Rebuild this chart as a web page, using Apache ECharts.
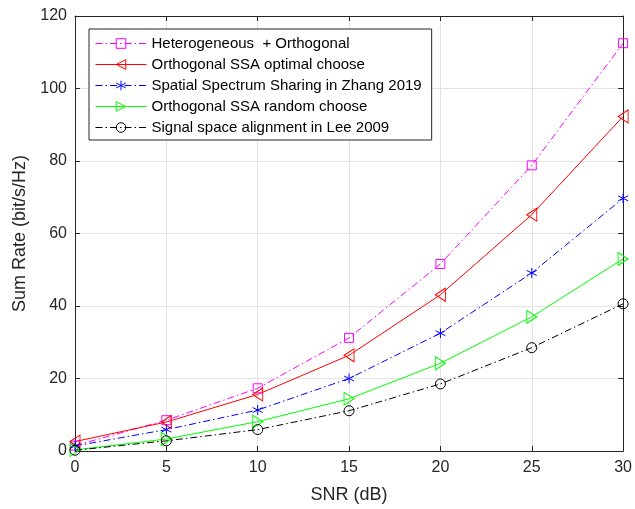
<!DOCTYPE html>
<html>
<head>
<meta charset="utf-8">
<script src="https://cdn.jsdelivr.net/npm/echarts@6/dist/echarts.min.js"></script>
<style>
  html, body { margin: 0; padding: 0; background: #fff; }
  #chart { width: 635px; height: 509px; }
</style>
</head>
<body>
<div id="chart"></div>
<script>
const snr = [0, 5, 10, 15, 20, 25, 30]
const xTicks = { min: 0, max: 30, interval: 5 }
const yTicks = { min: 0, max: 120, interval: 20 }

const seriesNames = [
  'Heterogeneous  + Orthogonal',
  'Orthogonal SSA optimal choose',
  'Spatial Spectrum Sharing in Zhang 2019',
  'Orthogonal SSA random choose',
  'Signal space alignment in Lee 2009'
]
const heteroOrth = [1.5, 8.5, 17.3, 31.2, 51.6, 78.8, 112.5]
const ssaOptimal = [2.6, 8.0, 15.6, 26.4, 43.1, 65.2, 92.3]
const zhang2019 = [1.4, 5.9, 11.3, 20.0, 32.5, 49.1, 69.7]
const ssaRandom = [0.3, 3.3, 8.1, 14.4, 24.2, 37.0, 53.0]
const lee2009 = [0.2, 2.8, 5.9, 11.1, 18.5, 28.5, 40.6]

const dashDot = [7, 3, 1.5, 3]
const asterisk = 'path://M0,-5L0,5M-4.33,-2.5L4.33,2.5M-4.33,2.5L4.33,-2.5'
const textColor = '#262626'
const font = 'Liberation Sans, Arial, sans-serif'

const chart = echarts.init(document.getElementById('chart'))

function pairs(values) {
  return snr.map((x, i) => [x, values[i]])
}

// markers drawn hollow, like the MATLAB defaults
function makeSeries(name, values, color, dash, symbol, size, rotate) {
  return {
    name: name,
    type: 'line',
    data: pairs(values),
    symbol: symbol,
    symbolSize: size,
    symbolRotate: rotate || 0,
    showAllSymbol: true,
    animation: false,
    lineStyle: { color: color, width: 1, type: dash },
    itemStyle: { color: 'rgba(255,255,255,0)', borderColor: color, borderWidth: 1 }
  }
}

const option = {
  backgroundColor: '#fff',
  textStyle: { fontFamily: font },
  grid: { left: 75, right: 7, top: 16, bottom: 56 },
  legend: {
    orient: 'vertical',
    left: 89,
    top: 29,
    padding: [7, 10, 5, 6],
    itemWidth: 51,
    itemHeight: 12,
    itemGap: 6,
    backgroundColor: '#fff',
    borderColor: textColor,
    borderWidth: 1,
    borderRadius: 0,
    lineStyle: { width: 1 },
    itemStyle: { borderWidth: 1 },
    textStyle: { color: '#000', fontSize: 15, fontFamily: font },
    data: seriesNames
  },
  xAxis: [
    {
      type: 'value',
      min: xTicks.min,
      max: xTicks.max,
      interval: xTicks.interval,
      name: 'SNR (dB)',
      nameLocation: 'middle',
      nameGap: 35,
      nameTextStyle: { color: textColor, fontSize: 18, fontFamily: font },
      axisLine: { onZero: false, lineStyle: { color: textColor } },
      axisTick: { inside: true, length: 5, lineStyle: { color: textColor } },
      axisLabel: { color: textColor, fontSize: 16, margin: 9, fontFamily: font },
      splitLine: { show: true, lineStyle: { color: '#e3e3e3' } }
    },
    {
      type: 'value',
      position: 'top',
      min: xTicks.min,
      max: xTicks.max,
      interval: xTicks.interval,
      axisLine: { onZero: false, lineStyle: { color: textColor } },
      axisTick: { inside: true, length: 5, lineStyle: { color: textColor } },
      axisLabel: { show: false },
      splitLine: { show: false }
    }
  ],
  yAxis: [
    {
      type: 'value',
      min: yTicks.min,
      max: yTicks.max,
      interval: yTicks.interval,
      name: 'Sum Rate (bit/s/Hz)',
      nameLocation: 'middle',
      nameGap: 44,
      nameTextStyle: { color: textColor, fontSize: 18, fontFamily: font },
      axisLine: { show: true, onZero: false, lineStyle: { color: textColor } },
      axisTick: { show: true, inside: true, length: 5, lineStyle: { color: textColor } },
      axisLabel: { color: textColor, fontSize: 16, margin: 8, fontFamily: font },
      splitLine: { show: true, lineStyle: { color: '#e3e3e3' } }
    },
    {
      type: 'value',
      position: 'right',
      min: yTicks.min,
      max: yTicks.max,
      interval: yTicks.interval,
      axisLine: { show: true, onZero: false, lineStyle: { color: textColor } },
      axisTick: { show: true, inside: true, length: 5, lineStyle: { color: textColor } },
      axisLabel: { show: false },
      splitLine: { show: false }
    }
  ],
  series: [
    makeSeries(seriesNames[0], heteroOrth, '#ff00ff', dashDot, 'rect', 9),
    makeSeries(seriesNames[1], ssaOptimal, '#ff0000', 'solid', 'triangle', [13, 10], 90),
    makeSeries(seriesNames[2], zhang2019, '#0000ff', dashDot, asterisk, 10),
    makeSeries(seriesNames[3], ssaRandom, '#00ff00', 'solid', 'triangle', [13, 10], -90),
    makeSeries(seriesNames[4], lee2009, '#000000', dashDot, 'circle', 10)
  ]
}

chart.setOption(option)
</script>
</body>
</html>
